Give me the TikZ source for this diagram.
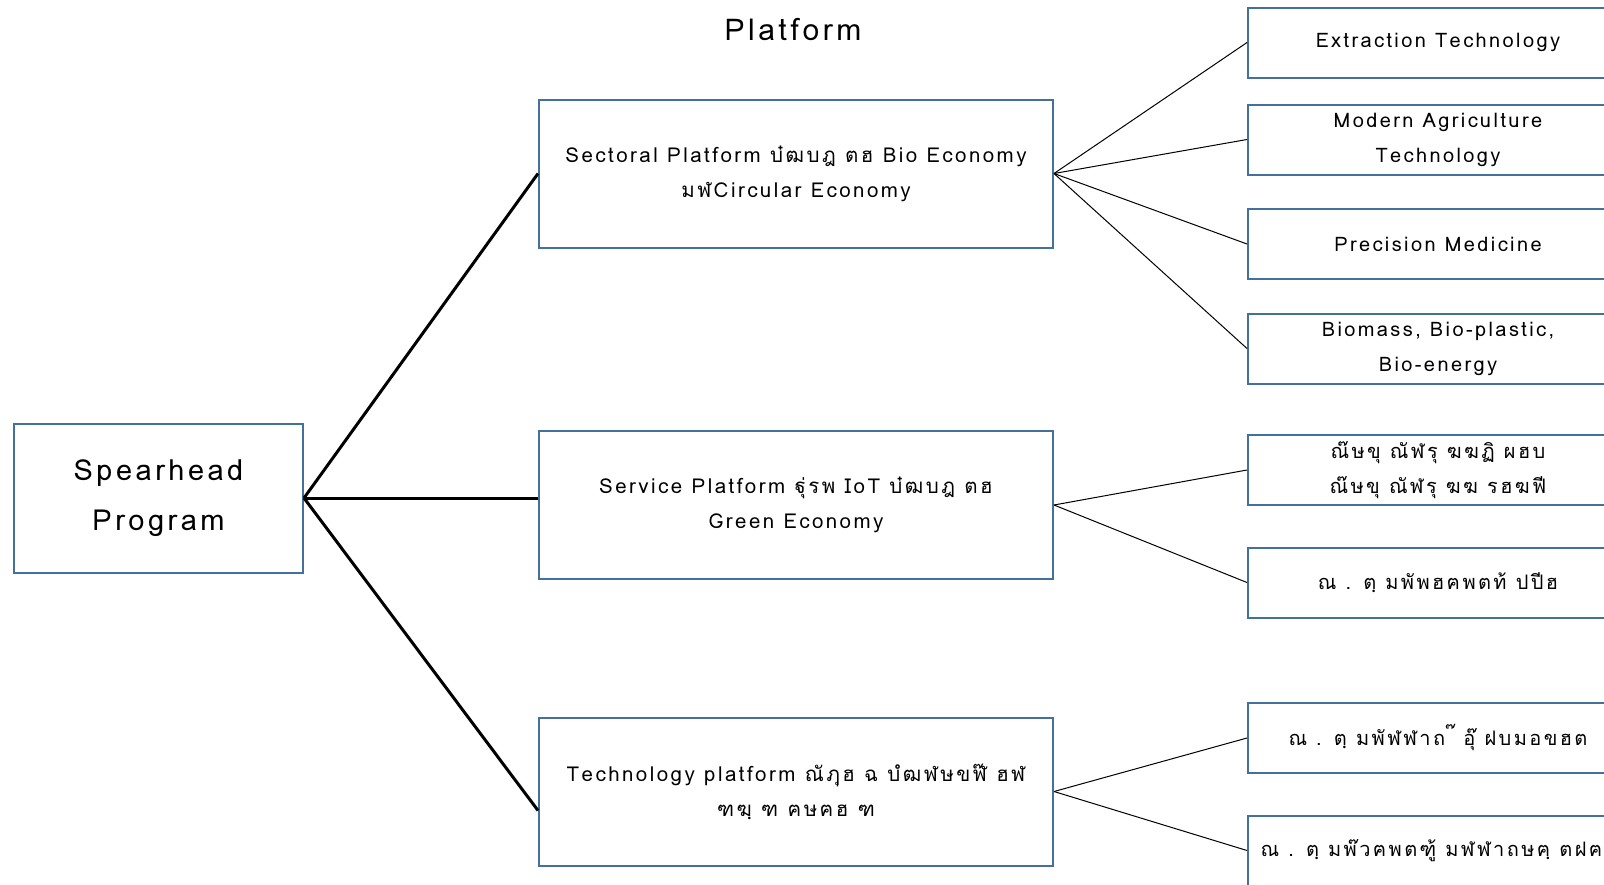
\documentclass[tikz,border=0pt]{standalone}
\usepackage{fontspec}
\setmainfont[Script=Thai,LetterSpace=12]{Loma}
\begin{document}
\definecolor{boxblue}{HTML}{41719C}
\begin{tikzpicture}[x=1pt,y=-1pt,
  box/.style={draw=boxblue,line width=2pt,fill=white,align=center,inner sep=0pt},
  midbox/.style={box,minimum width=514pt,minimum height=148pt,font=\fontsize{20.5}{35}\selectfont},
  rbox/.style={box,minimum width=380pt,minimum height=70pt,font=\fontsize{20}{35}\selectfont},
  thick link/.style={line width=3pt,black},
  thin link/.style={line width=1pt,black}]
\useasboundingbox (0,0) rectangle (1604,884);
\clip (0,0) rectangle (1604,884);
\node[font=\fontsize{30}{36}\selectfont] (title) at (793,29) {Platform};
\node[box,minimum width=289pt,minimum height=149pt,font=\fontsize{29}{50}\selectfont] (sp) at (158.5,498) {Spearhead\\Program};
\node[midbox] (sec) at (796,173.5) {Sectoral Platform  บ๋ฒบฎ ตฮ Bio Economy\\มฬCircular Economy};
\node[midbox] (ser) at (796,505) {Service Platform ฐุ่รพ IoT  บ๋ฒบฎ ตฮ\\Green Economy};
\node[midbox] (tec) at (796,791.5) {Technology platform ณัฦุฮ ฉ  บํฒฬษขฬ๊ ฮฬ\\ฑฆฺ ฑ ฅษฅฮ ฑ};
\node[rbox] (r1) at (1438,42.5) {Extraction Technology};
\node[rbox] (r2) at (1438,139.5) {Modern Agriculture\\Technology};
\node[rbox] (r3) at (1438,244) {Precision Medicine};
\node[rbox] (r4) at (1438,348.5) {Biomass, Bio-plastic,\\Bio-energy};
\node[rbox] (r5) at (1438,470) {ณ๊ษขุ ณัฬรุ ฆฆฏิ  ผฮบ\\ณ๊ษขุ ณัฬรุ ฆฆ  รฮฆฟี};
\node[rbox] (r6) at (1438,582.5) {ณ . ตฺ มพัพฮฅพตท้ ปปีฮ};
\node[rbox] (r7) at (1438,738) {ณ . ตฺ มพัฬฬาถ ๊ อุ๊  ฝบมอขฮต};
\node[rbox] (r8) at (1438,850.5) {ณ . ตฺ มพ๊วฅพตฑู้ มฬฬาถษฅฺ ตฝฅะ};
\coordinate (secin) at (sec.west);
\coordinate (serin) at (sp.east -| ser.west);
\coordinate (tecin) at ([yshift=-19pt]tec.west);
\draw[thick link] (sp.east) -- (secin);
\draw[thick link] (sp.east) -- (serin);
\draw[thick link] (sp.east) -- (tecin);
\foreach \r in {r1,r2,r3,r4} \draw[thin link] (sec.east) -- (\r.west);
\foreach \r in {r5,r6} \draw[thin link] (ser.east) -- (\r.west);
\foreach \r in {r7,r8} \draw[thin link] (tec.east) -- (\r.west);
\end{tikzpicture}
\end{document}
